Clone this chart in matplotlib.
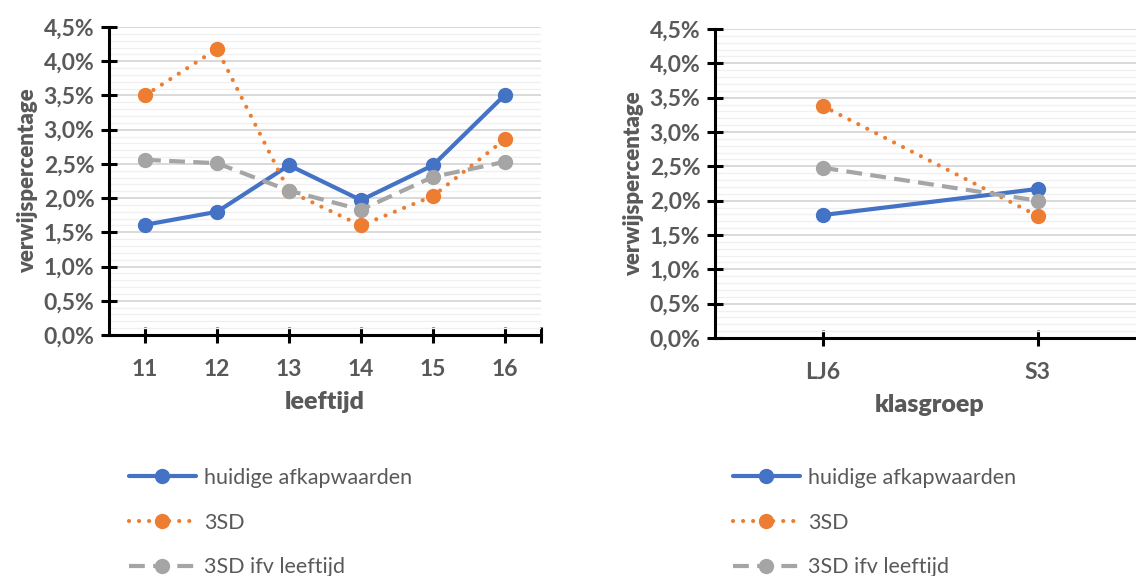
import matplotlib
matplotlib.use('Agg')
import matplotlib.pyplot as plt
from matplotlib.ticker import MultipleLocator, FuncFormatter

# Verwijspercentages per leeftijd en per klasgroep
leeftijden = ['11', '12', '13', '14', '15', '16']
huidig_leeftijd = [1.61, 1.80, 2.48, 1.97, 2.48, 3.51]
sd3_leeftijd = [3.50, 4.18, 2.10, 1.60, 2.03, 2.86]
sd3_ifv_leeftijd = [2.56, 2.51, 2.11, 1.83, 2.31, 2.53]

klasgroepen = ['LJ6', 'S3']
huidig_klas = [1.79, 2.17]
sd3_klas = [3.38, 1.78]
sd3_ifv_klas = [2.48, 2.00]

reeksen = ['huidige afkapwaarden', '3SD', '3SD ifv leeftijd']

plt.rcParams['font.family'] = ['Lato', 'DejaVu Sans']
tekstkleur = '#595959'
blauw = '#4472C4'
oranje = '#ED7D31'
grijs = '#A5A5A5'

fig = plt.figure(figsize=(11.36, 5.76), dpi=100)
ax1 = fig.add_axes([109 / 1136, 1 - 335 / 576, 432 / 1136, 308 / 576])
ax2 = fig.add_axes([715 / 1136, 1 - 338 / 576, 430 / 1136, 309 / 576])


def teken(ax, cats, huidig, sd3, sd3_ifv, xlabel):
    x = range(len(cats))
    ax.plot(x, huidig, color=blauw, lw=3, marker='o', ms=10,
            solid_capstyle='round', label=reeksen[0], zorder=3)
    ax.plot(x, sd3, color=oranje, lw=3, marker='o', ms=10,
            linestyle=(0, (0.01, 2.4)), dash_capstyle='round',
            label=reeksen[1], zorder=3)
    ax.plot(x, sd3_ifv, color=grijs, lw=3, marker='o', ms=10,
            linestyle=(0, (3.8, 2)), label=reeksen[2], zorder=3)

    ax.set_xlim(-0.5, len(cats) - 0.5)
    ax.set_ylim(0, 4.5)
    ax.set_xticks(list(x) + [len(cats) - 0.5])
    ax.set_xticklabels(cats + [''])
    ax.yaxis.set_major_locator(MultipleLocator(0.5))
    ax.yaxis.set_minor_locator(MultipleLocator(0.1))
    ax.yaxis.set_major_formatter(FuncFormatter(lambda v, p: f'{v:.1f}%'.replace('.', ',')))

    ax.grid(axis='y', which='major', color='#d9d9d9', lw=1.4, zorder=0)
    ax.grid(axis='y', which='minor', color='#f0f0f0', lw=1.0, zorder=0)
    ax.set_axisbelow(True)

    for side in ['top', 'right']:
        ax.spines[side].set_visible(False)
    for side in ['left', 'bottom']:
        ax.spines[side].set_linewidth(2.2)
        ax.spines[side].set_color('black')

    ax.tick_params(axis='both', which='major', direction='inout', length=11,
                   width=2.2, colors='black', labelcolor=tekstkleur,
                   labelsize=16.5)
    ax.tick_params(axis='x', pad=12)
    ax.tick_params(axis='y', pad=5)
    ax.tick_params(axis='y', which='minor', length=0)
    for lbl in ax.get_xticklabels() + ax.get_yticklabels():
        lbl.set_fontweight('bold')

    ax.set_ylabel('verwijspercentage', fontsize=16, fontweight='heavy',
                  color=tekstkleur, labelpad=4)
    ax.set_xlabel(xlabel, fontsize=18, fontweight='heavy', color=tekstkleur,
                  labelpad=8)

    ax.legend(loc='upper left', frameon=False, fontsize=15.5,
              handlelength=3.1, handletextpad=0.4, labelspacing=1.14,
              labelcolor=tekstkleur, borderpad=0, borderaxespad=0)


teken(ax1, leeftijden, huidig_leeftijd, sd3_leeftijd, sd3_ifv_leeftijd, 'leeftijd')
teken(ax2, klasgroepen, huidig_klas, sd3_klas, sd3_ifv_klas, 'klasgroep')

ax1.get_legend().set_bbox_to_anchor((129 / 1136, 1 - 468 / 576), transform=fig.transFigure)
ax2.get_legend().set_bbox_to_anchor((733 / 1136, 1 - 468 / 576), transform=fig.transFigure)

fig.savefig('out.png', dpi=100)
